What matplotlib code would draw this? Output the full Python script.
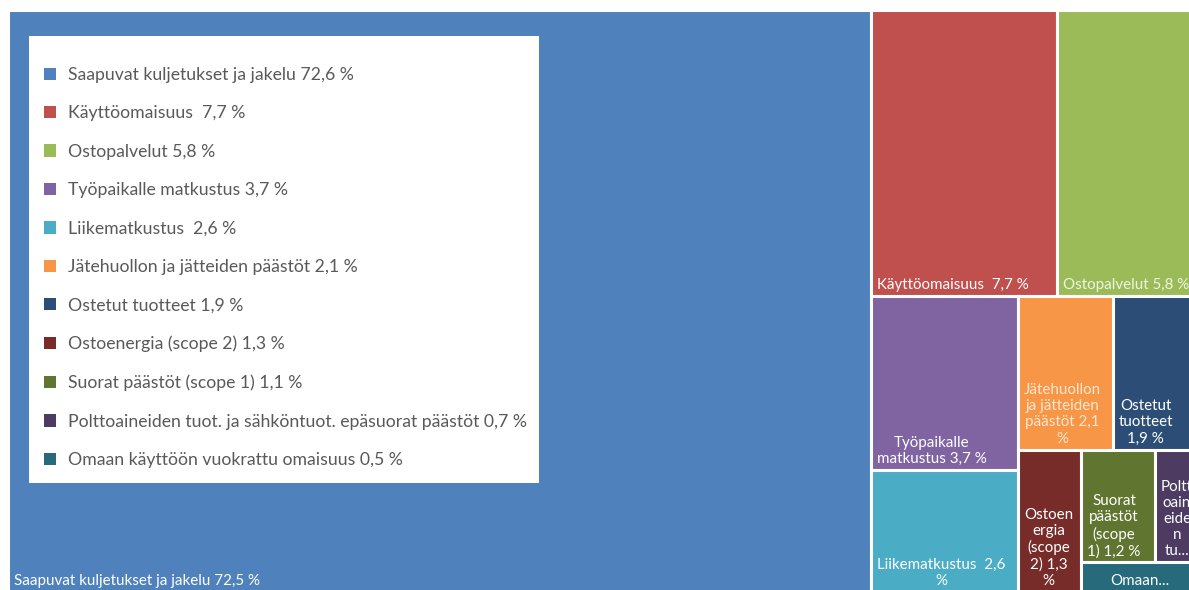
"""Treemap of emission sources (Excel-style) with a boxed legend on the large tile."""
import matplotlib.pyplot as plt
from matplotlib.patches import Patch, Rectangle

plt.rcParams["font.family"] = ["Lato", "DejaVu Sans"]

# data
values = [72.5, 7.7, 5.8, 3.7, 2.6, 2.1, 1.9, 1.3, 1.2, 0.7, 0.5]
tile_labels = [
    "Saapuvat kuljetukset ja jakelu 72,5 %",
    "Käyttöomaisuus  7,7 %",
    "Ostopalvelut 5,8 %",
    "Työpaikalle\nmatkustus 3,7 %",
    "Liikematkustus  2,6\n%",
    "Jätehuollon\nja jätteiden\npäästöt 2,1\n%",
    "Ostetut\ntuotteet\n1,9 %",
    "Ostoen\nergia\n(scope\n2) 1,3\n%",
    "Suorat\npäästöt\n(scope\n1) 1,2 %",
    "Poltt\noain\neide\nn\ntu...",
    "Omaan...",
]
legend_labels = [
    "Saapuvat kuljetukset ja jakelu 72,6 %",
    "Käyttöomaisuus  7,7 %",
    "Ostopalvelut 5,8 %",
    "Työpaikalle matkustus 3,7 %",
    "Liikematkustus  2,6 %",
    "Jätehuollon ja jätteiden päästöt 2,1 %",
    "Ostetut tuotteet 1,9 %",
    "Ostoenergia (scope 2) 1,3 %",
    "Suorat päästöt (scope 1) 1,1 %",
    "Polttoaineiden tuot. ja sähköntuot. epäsuorat päästöt 0,7 %",
    "Omaan käyttöön vuokrattu omaisuus 0,5 %",
]
colors = ["#4F81BD", "#C0504D", "#9BBB59", "#8064A2", "#4BACC6", "#F79646",
          "#2C4D75", "#772C2A", "#5F7530", "#4D3B62", "#276A7C"]
text_colors = ["white", "white", "#eef4e2", "white", "white", "#fde6cf",
               "white", "white", "white", "white", "white"]
# number of tiles in each strip, strips laid along the shorter side
strips = [1, 2, 2, 2, 1, 2, 1]

W, H = 1190.0, 582.0  # treemap extent in pixels


def layout(vals, strips, x, y, w, h):
    rects = []
    i = 0
    for n in strips:
        group = vals[i:i + n]
        gsum = sum(group)
        share = gsum / sum(vals[i:])
        if w >= h:
            sw = w * share
            yy = y
            for v in group:
                hh = h * v / gsum
                rects.append((x, yy, sw, hh))
                yy += hh
            x += sw
            w -= sw
        else:
            sh = h * share
            xx = x
            for v in group:
                ww = w * v / gsum
                rects.append((xx, y, ww, sh))
                xx += ww
            y += sh
            h -= sh
        i += n
    return rects


fig = plt.figure(figsize=(11.89, 5.90), dpi=100)
ax = fig.add_axes([8 / 1189, (590 - 10 - H) / 590, W / 1189, H / 590])
ax.set_xlim(0, W)
ax.set_ylim(H, 0)
ax.axis("off")

for (x, y, w, h), c, lab, tc in zip(layout(values, strips, 0, 0, W, H), colors, tile_labels, text_colors):
    ax.add_patch(Rectangle((x, y), w, h, facecolor=c, edgecolor="white", lw=2.2))
    if lab.endswith("...") and "\n" not in lab:
        ax.text(x + w / 2, y + h - 4, lab, ha="center", va="bottom", color=tc, fontsize=10.9)
    else:
        ax.text(x + 6, y + h - 4, lab, ha="left", va="bottom", multialignment="center",
                color=tc, fontsize=10.9, linespacing=1.2)

# white legend box on top of the big tile
fig.patches.append(Rectangle((29 / 1189, 1 - 483 / 590), 510 / 1189, 447 / 590,
                             transform=fig.transFigure, facecolor="white",
                             edgecolor="none", zorder=5))
handles = [Patch(facecolor=c, edgecolor="none") for c in colors]
leg = fig.legend(handles, legend_labels, loc="upper left",
                 bbox_to_anchor=(44 / 1189, 1 - 67 / 590), frameon=False,
                 fontsize=12.7, labelcolor="#595959", borderpad=0, borderaxespad=0,
                 handlelength=0.7, handleheight=0.7, handletextpad=0.65,
                 labelspacing=1.27)
leg.set_zorder(6)

fig.savefig("out.png", dpi=100)
